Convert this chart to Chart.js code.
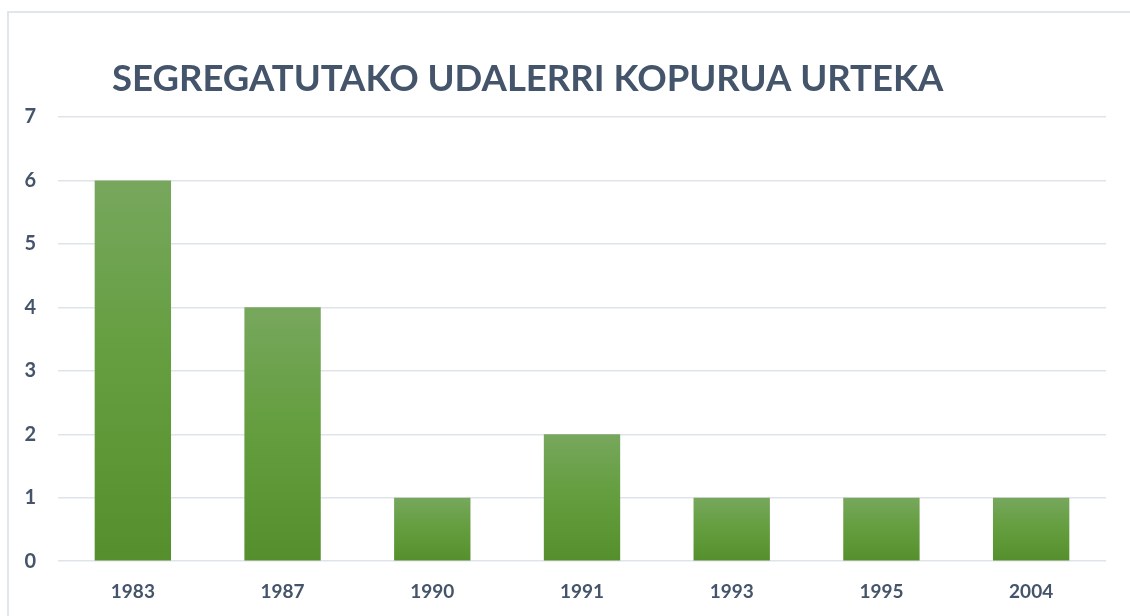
<!DOCTYPE html>
<html lang="eu">
<head>
  <meta charset="UTF-8" />
  <title>Segregatutako udalerri kopurua urteka</title>
  <script src="https://cdn.jsdelivr.net/npm/chart.js"></script>
  <style>
    * { margin: 0; padding: 0; box-sizing: border-box; }
    html, body { width: 1130px; height: 616px; overflow: hidden; background: #fff; }
    .frame {
      position: absolute; left: 7px; top: 11px;
      width: 1150px; height: 640px;
      border: 2px solid #e1e5ec;
    }
    .chart-box { position: absolute; left: 0; top: 0; width: 1130px; height: 616px; }
  </style>
</head>
<body>
  <div class="frame"></div>
  <div class="chart-box"><canvas id="urteka" width="1130" height="616"></canvas></div>

  <script>
    // datuak
    const years = ['1983', '1987', '1990', '1991', '1993', '1995', '2004'];
    const counts = [6, 4, 1, 2, 1, 1, 1];
    const yTicks = [0, 1, 2, 3, 4, 5, 6, 7];
    const chartTitle = 'SEGREGATUTAKO UDALERRI KOPURUA URTEKA';

    const textColor = '#44546a';
    const fontFamily = "Lato, 'Open Sans', sans-serif";

    // barra bakoitzarentzat gradientea (goian argiago)
    function barGradient(context) {
      const chart = context.chart;
      if (!chart.chartArea) return '#629b3c';
      const value = context.parsed ? context.parsed.y : counts[context.dataIndex];
      const yScale = chart.scales.y;
      const top = yScale.getPixelForValue(value);
      const bottom = yScale.getPixelForValue(0);
      const g = chart.ctx.createLinearGradient(0, top, 0, bottom);
      g.addColorStop(0, '#77a75d');
      g.addColorStop(0.5, '#639d3d');
      g.addColorStop(1, '#558f2d');
      return g;
    }

    // izenburua marrazteko
    const titlePlugin = {
      id: 'titleText',
      afterDraw(chart) {
        const ctx = chart.ctx;
        ctx.save();
        ctx.font = 'bold 36.5px ' + fontFamily;
        ctx.fillStyle = textColor;
        ctx.textBaseline = 'middle';
        ctx.textAlign = 'left';
        ctx.fillText(chartTitle, 112, 79);
        ctx.restore();
      }
    };

    new Chart(document.getElementById('urteka'), {
      type: 'bar',
      data: {
        labels: years,
        datasets: [{
          data: counts,
          backgroundColor: barGradient,
          categoryPercentage: 1,
          barPercentage: 0.51
        }]
      },
      options: {
        responsive: false,
        animation: false,
        maintainAspectRatio: false,
        layout: { padding: { top: 117, right: 24, left: 0, bottom: 2 } },
        plugins: { legend: { display: false }, tooltip: { enabled: false } },
        scales: {
          x: {
            grid: { display: false },
            border: { display: false },
            ticks: {
              color: textColor,
              font: { family: fontFamily, size: 19, weight: 'bold' },
              padding: 11
            }
          },
          y: {
            min: 0,
            max: 7,
            afterBuildTicks: (scale) => { scale.ticks = yTicks.map(v => ({ value: v })); },
            afterFit: (scale) => { scale.width = 58; },
            grid: { color: '#dfe3ea', lineWidth: 1.5, drawTicks: false },
            border: { display: false },
            ticks: {
              color: textColor,
              font: { family: fontFamily, size: 20, weight: 'bold' },
              padding: 22
            }
          }
        }
      },
      plugins: [titlePlugin]
    });
  </script>
</body>
</html>
